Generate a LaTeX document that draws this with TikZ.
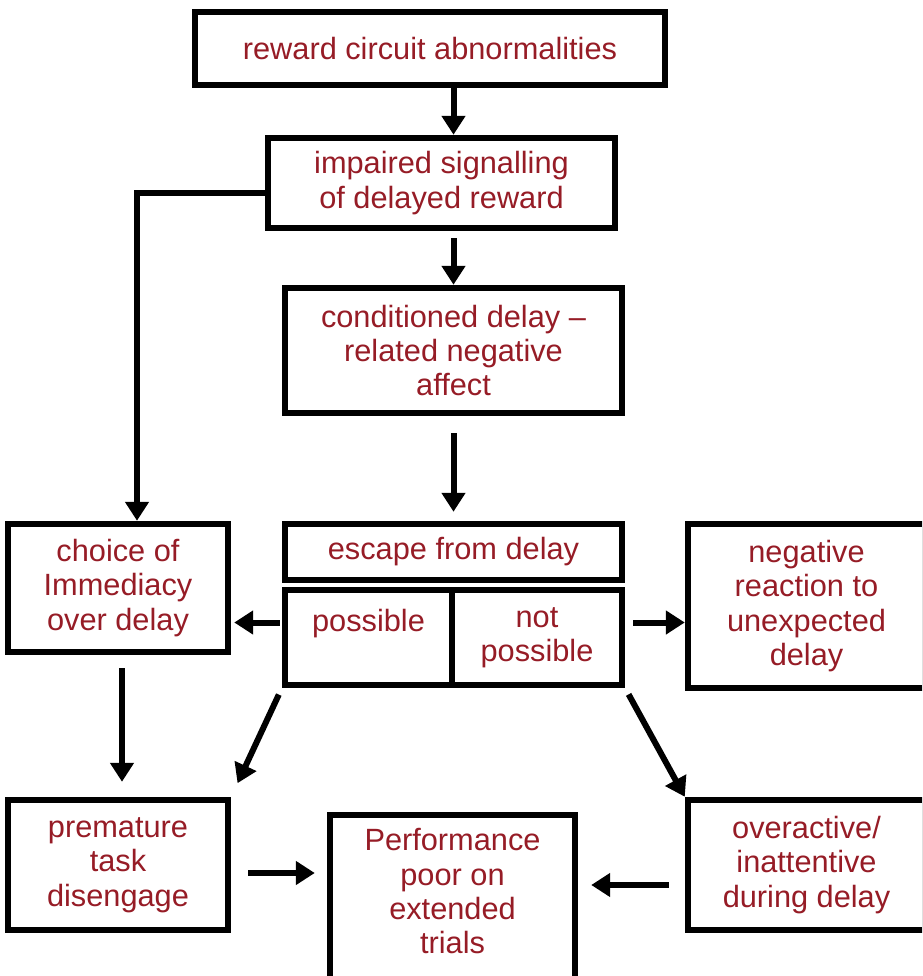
\documentclass[tikz,border=0pt]{standalone}
\usepackage{fontspec}
\setmainfont{Liberation Sans}
\usepackage{xcolor}
\usetikzlibrary{arrows.meta,calc}
\definecolor{label-red}{RGB}{150,28,38}
\tikzstyle{flowbox}=[draw, line width=0.13cm, text=label-red, align=center, inner sep=0pt, font=\fontsize{17.5}{19.5}\selectfont]
\tikzstyle{flowarr}=[line width=0.12cm, -{Triangle[length=0.38cm,width=0.46cm]}]

\begin{document}
\begin{tikzpicture}[x=0.02cm,y=-0.02cm]
	\clip (0,0) rectangle (922,976);
	\node[flowbox, minimum width=9.4cm, minimum height=1.46cm] (reward) at (430,48.5) {reward circuit abnormalities};
	\node[flowbox, minimum width=6.94cm, minimum height=1.8cm] (impaired) at (441.5,183) {impaired signalling\\of delayed reward};
	\node[flowbox, minimum width=6.74cm, minimum height=2.5cm] (conditioned) at (453.5,350.5) {conditioned delay --\\related negative\\affect};
	\node[flowbox, minimum width=6.74cm, minimum height=1.12cm] (escape) at (453.5,552) {escape from delay};
	\node[flowbox, minimum width=3.34cm, minimum height=1.9cm] (poss) at (368.5,637.5) {possible\\\mbox{}};
	\node[flowbox, minimum width=3.4cm, minimum height=1.9cm] (notposs) at (537,637.5) {not\\possible};
	\node[flowbox, minimum width=4.4cm, minimum height=2.56cm] (choice) at (118,588) {choice of\\Immediacy\\over delay};
	\node[flowbox, minimum width=4.74cm, minimum height=3.28cm] (negative) at (806.5,606) {negative\\reaction to\\unexpected\\delay};
	\node[flowbox, minimum width=4.4cm, minimum height=2.6cm] (premature) at (118,865) {premature\\task\\disengage};
	\node[flowbox, minimum width=4.9cm, minimum height=3.5cm, text depth=0.46cm] (perform) at (452.5,902.5) {Performance\\poor on\\extended\\trials};
	\node[flowbox, minimum width=4.74cm, minimum height=2.6cm] (overactive) at (806.5,865) {overactive/\\inattentive\\during delay};

	\draw[flowarr] (reward.south -| escape.north) -- (impaired.north -| escape.north);
	\draw[flowarr, shorten <=0.14cm] (impaired.south -| escape.north) -- (conditioned.north);
	\draw[flowarr, shorten <=0.34cm, shorten >=0.18cm] (conditioned.south) -- (escape.north);
	\draw[flowarr] ([yshift=-0.2cm]impaired.west) -| ([xshift=0.38cm]choice.north);
	\draw[flowarr, shorten <=0.04cm, shorten >=0.06cm] ([yshift=0.3cm]poss.west) -- ([yshift=0.3cm]poss.west -| choice.east);
	\draw[flowarr, shorten <=0.16cm] ([yshift=0.3cm]notposs.east) -- ([yshift=0.3cm]notposs.east -| negative.west);
	\draw[flowarr, shorten <=0.26cm, shorten >=0.3cm] ([xshift=0.08cm]choice.south) -- ([xshift=0.08cm]premature.north);
	\draw[flowarr, shorten <=0.14cm, shorten >=0.3cm] (poss.south west) -- (premature.north east);
	\draw[flowarr, shorten <=0.14cm] (notposs.south east) -- (overactive.north west);
	\draw[flowarr, shorten <=0.34cm, shorten >=0.24cm] ([yshift=-0.16cm]premature.east) -- ([yshift=-0.16cm]premature.east -| perform.west);
	\draw[flowarr, shorten <=0.32cm, shorten >=0.26cm] ([yshift=-0.4cm]overactive.west) -- ([yshift=-0.4cm]overactive.west -| perform.east);
\end{tikzpicture}
\end{document}
